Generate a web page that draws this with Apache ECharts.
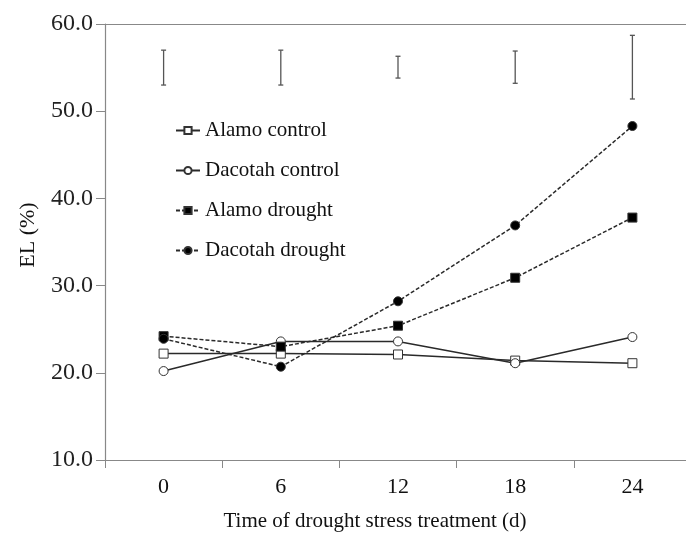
<!DOCTYPE html>
<html>
<head>
<meta charset="utf-8">
<script src="https://cdn.jsdelivr.net/npm/echarts@6/dist/echarts.min.js"></script>
<style>html,body{margin:0;padding:0;background:#fff}#c{width:686px;height:534px}</style>
</head>
<body>
<div id="c"></div>
<script>
var categories = ['0', '6', '12', '18', '24'];
var alamoControl = [22.2, 22.2, 22.1, 21.4, 21.1];
var dacotahControl = [20.2, 23.6, 23.6, 21.1, 24.1];
var alamoDrought = [24.2, 23.0, 25.4, 30.9, 37.8];
var dacotahDrought = [23.9, 20.7, 28.2, 36.9, 48.3];
var errLow = [53.0, 53.0, 53.8, 53.2, 51.4];
var errHigh = [57.0, 57.0, 56.3, 56.9, 58.7];
var yTicks = { min: 10, max: 60, interval: 10 };

var font = 'Liberation Serif, Times New Roman, serif';
var chart = echarts.init(document.getElementById('c'), null, { renderer: 'canvas' });

function lineSeries(name, data, symbol, filled, dashed) {
  return {
    name: name,
    type: 'line',
    data: data,
    symbol: symbol,
    symbolSize: 9,
    showSymbol: true,
    z: filled ? 4 : 3,
    lineStyle: { color: '#2a2a2a', width: 1.5, type: dashed ? [4, 2] : 'solid' },
    itemStyle: { color: filled ? '#000' : '#fff', borderColor: '#333', borderWidth: 1 },
    emphasis: { disabled: true }
  };
}

var errData = categories.map(function (c, i) { return [i, errLow[i], errHigh[i]]; });

chart.setOption({
  animation: false,
  backgroundColor: '#fff',
  grid: { left: 105, width: 586, top: 24, bottom: 74, show: false,
    outerBoundsMode: 'none', containLabel: false },
  legend: {
    orient: 'vertical',
    left: 170,
    top: 115,
    itemWidth: 24,
    itemHeight: 9,
    itemGap: 19,
    textStyle: { fontFamily: font, fontSize: 21, color: '#111' },
    data: ['Alamo control', 'Dacotah control', 'Alamo drought', 'Dacotah drought']
  },
  xAxis: [{
    type: 'category',
    data: categories,
    boundaryGap: true,
    name: 'Time of drought stress treatment (d)',
    nameLocation: 'middle',
    nameGap: 51,
    nameTextStyle: { fontFamily: font, fontSize: 21, color: '#111', padding: [0, 46, 0, 0] },
    axisLine: { lineStyle: { color: '#888', width: 1.2 } },
    axisTick: { show: true, length: 8, alignWithLabel: false, lineStyle: { color: '#888' } },
    axisLabel: { fontFamily: font, fontSize: 22, color: '#111', margin: 16 }
  }, {
    type: 'category',
    data: categories,
    position: 'top',
    boundaryGap: true,
    axisLine: { show: true, lineStyle: { color: '#888', width: 1.2 } },
    axisTick: { show: false },
    axisLabel: { show: false },
    splitLine: { show: false }
  }],
  yAxis: {
    type: 'value',
    min: yTicks.min,
    max: yTicks.max,
    interval: yTicks.interval,
    name: 'EL (%)',
    nameLocation: 'middle',
    nameGap: 66,
    nameRotate: 90,
    nameTextStyle: { fontFamily: font, fontSize: 22, color: '#111', padding: [0, 0, 0, 14] },
    splitLine: { show: false },
    axisLine: { show: true, lineStyle: { color: '#888', width: 1.2 } },
    axisTick: { show: true, length: 9, lineStyle: { color: '#888' } },
    axisLabel: { fontFamily: font, fontSize: 24, color: '#222', margin: 12,
      formatter: function (v) { return v.toFixed(1); } }
  },
  series: [
    lineSeries('Alamo control', alamoControl, 'rect', false, false),
    lineSeries('Dacotah control', dacotahControl, 'circle', false, false),
    lineSeries('Alamo drought', alamoDrought, 'rect', true, true),
    lineSeries('Dacotah drought', dacotahDrought, 'circle', true, true),
    {
      type: 'custom',
      name: 'LSD',
      data: errData,
      silent: true,
      renderItem: function (params, api) {
        var x = api.value(0);
        var lo = api.coord([x, api.value(1)]);
        var hi = api.coord([x, api.value(2)]);
        var cw = 2.5;
        var st = { stroke: '#555', lineWidth: 1.3 };
        return {
          type: 'group',
          children: [
            { type: 'line', shape: { x1: lo[0], y1: lo[1], x2: hi[0], y2: hi[1] }, style: st },
            { type: 'line', shape: { x1: lo[0] - cw, y1: lo[1], x2: lo[0] + cw, y2: lo[1] }, style: st },
            { type: 'line', shape: { x1: hi[0] - cw, y1: hi[1], x2: hi[0] + cw, y2: hi[1] }, style: st }
          ]
        };
      }
    }
  ]
});
</script>
</body>
</html>
